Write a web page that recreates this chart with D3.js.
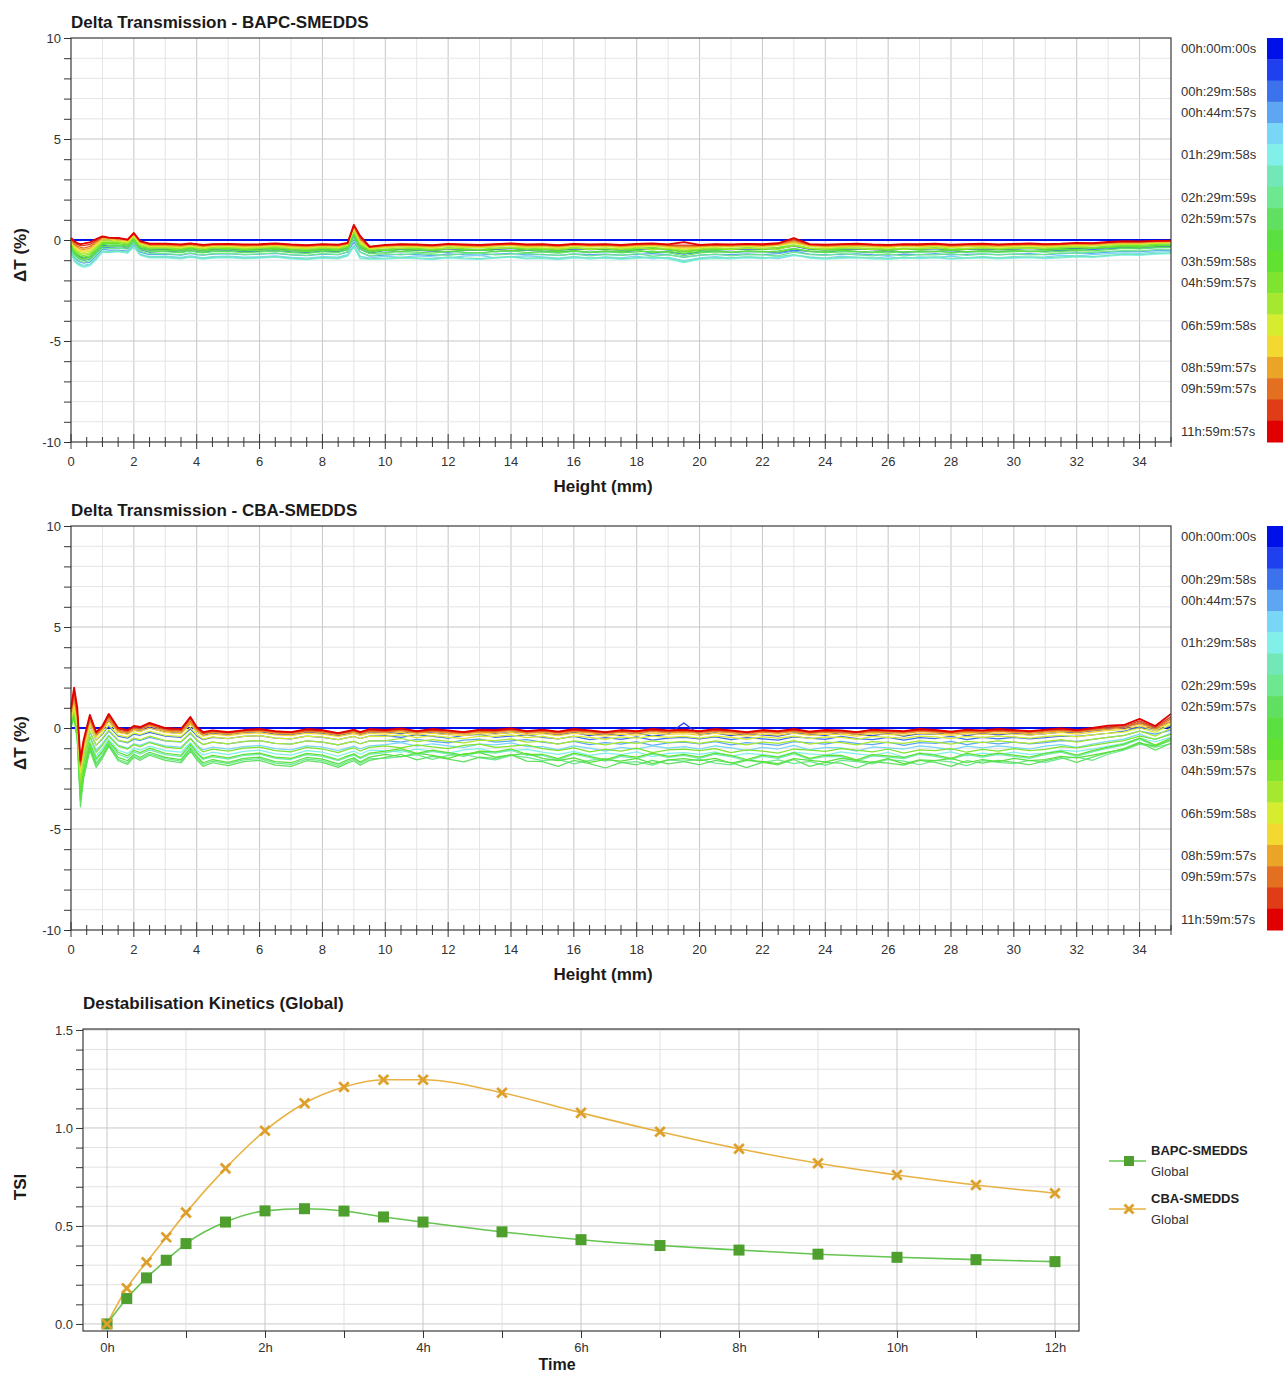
<!DOCTYPE html>
<html><head><meta charset="utf-8">
<script src="https://cdn.jsdelivr.net/npm/d3@7"></script>
<style>
body{margin:0;background:#fff;}
svg{display:block;font-family:"Liberation Sans",Arial,sans-serif;}
</style></head><body>
<svg id="c" width="1283" height="1376"></svg>
<script>
// ---------- DATA ----------
const HEIGHTS = [0,.1,.2,.3,.4,.6,.8,1,1.2,1.5,1.8,2,2.2,2.5,
 3,3.5,3.8,4,4.2,4.5,5,5.5,6,6.5,7,7.5,8,8.5,8.8,9,9.2,9.5,
 10,10.5,11,11.5,12,12.5,13,13.5,14,14.5,15,15.5,16,16.5,17,17.5,18,18.5,19,19.5,
 20,20.5,21,21.5,22,22.5,23,23.5,24,24.5,25,25.5,26,26.5,27,27.5,28,28.5,29,29.5,
 30,30.5,31,31.5,32,32.5,33,33.5,34,34.5,35];

const SCAN_LABELS = ['00h:00m:00s','','00h:29m:58s','00h:44m:57s','','01h:29m:58s','','02h:29m:59s','02h:59m:57s','',
 '03h:59m:58s','04h:59m:57s','','06h:59m:58s','','08h:59m:57s','09h:59m:57s','','11h:59m:57s'];

const HEIGHT_TICKS = [0,2,4,6,8,10,12,14,16,18,20,22,24,26,28,30,32,34];
const DT_TICKS = [-10,-5,0,5,10];

const BAPC_DT = [
[0,0,0,0,0,0,0,0,0,0,0,0,0,0,
 0,0,0,0,0,0,0,0,0,0,0,0,0,0,0,0,0,0,
 0,0,0,0,0,0,0,0,0,0,0,0,0,0,0,0,0,0,0,0,
 0,0,0,0,0,0,0,0,0,0,0,0,0,0,0,0,0,0,0,0,
 0,0,0,0,0,0,0,0,0,0,0],
[-.3,-.6,-.75,-.85,-.9,-.85,-.55,-.25,-.3,-.3,-.35,-.1,-.4,-.5,
 -.45,-.5,-.42,-.48,-.5,-.46,-.44,-.5,-.47,-.43,-.49,-.52,-.45,-.48,-.4,.15,-.35,-.55,
 -.5,-.45,-.48,-.52,-.44,-.47,-.5,-.46,-.42,-.49,-.47,-.51,-.44,-.48,-.45,-.5,-.46,-.43,-.49,-.55,
 -.5,-.46,-.48,-.44,-.47,-.42,-.3,-.45,-.49,-.46,-.44,-.48,-.5,-.45,-.47,-.43,-.49,-.46,-.44,-.48,
 -.45,-.42,-.47,-.44,-.4,-.43,-.38,-.35,-.37,-.32,-.3],
[-.35,-.7,-.85,-.95,-1,-.95,-.65,-.35,-.38,-.4,-.42,-.15,-.48,-.6,
 -.55,-.6,-.52,-.57,-.6,-.55,-.53,-.58,-.56,-.52,-.59,-.62,-.55,-.57,-.48,.05,-.45,-.65,
 -.52,-.58,-.5,-.56,-.6,-.52,-.48,-.58,-.54,-.5,-.56,-.6,-.54,-.62,-.56,-.6,-.52,-.64,-.58,-.7,
 -.6,-.54,-.62,-.56,-.58,-.62,-.5,-.56,-.6,-.52,-.58,-.62,-.54,-.62,-.56,-.58,-.52,-.6,-.54,-.58,
 -.54,-.58,-.55,-.5,-.52,-.46,-.44,-.4,-.42,-.38,-.36],
[-.45,-.85,-1,-1.1,-1.15,-1.1,-.8,-.45,-.5,-.5,-.55,-.25,-.6,-.72,
 -.7,-.75,-.66,-.72,-.75,-.7,-.68,-.73,-.7,-.66,-.74,-.77,-.7,-.72,-.6,-.1,-.6,-.8,
 -.75,-.7,-.72,-.77,-.69,-.73,-.75,-.7,-.66,-.74,-.71,-.76,-.69,-.73,-.7,-.75,-.71,-.68,-.73,-.85,
 -.75,-.71,-.73,-.69,-.72,-.67,-.55,-.7,-.74,-.71,-.69,-.73,-.75,-.7,-.72,-.68,-.74,-.71,-.69,-.73,
 -.7,-.67,-.72,-.68,-.64,-.66,-.6,-.56,-.57,-.52,-.5],
[-.55,-.95,-1.1,-1.2,-1.25,-1.2,-.9,-.55,-.58,-.55,-.62,-.3,-.7,-.82,
 -.8,-.86,-.78,-.83,-.88,-.82,-.8,-.85,-.83,-.78,-.86,-.9,-.82,-.85,-.72,-.25,-.8,-.9,
 -.8,-.86,-.78,-.84,-.9,-.8,-.76,-.88,-.82,-.78,-.84,-.9,-.82,-.92,-.84,-.88,-.8,-.94,-.86,-1.02,
 -.88,-.82,-.9,-.84,-.86,-.92,-.76,-.84,-.9,-.8,-.86,-.9,-.82,-.92,-.84,-.86,-.8,-.9,-.82,-.88,
 -.82,-.86,-.83,-.76,-.78,-.72,-.68,-.64,-.66,-.6,-.58],
[-.6,-1.05,-1.2,-1.3,-1.35,-1.28,-.98,-.6,-.62,-.58,-.65,-.35,-.75,-.88,
 -.88,-.93,-.85,-.9,-.95,-.9,-.87,-.92,-.9,-.85,-.94,-.97,-.9,-.93,-.8,-.35,-.92,-.95,
 -.95,-.9,-.92,-.97,-.88,-.93,-.96,-.9,-.85,-.94,-.91,-.97,-.88,-.93,-.9,-.96,-.91,-.87,-.94,-1.12,
 -.96,-.91,-.93,-.88,-.92,-.86,-.75,-.9,-.95,-.91,-.89,-.93,-.96,-.9,-.92,-.88,-.95,-.91,-.89,-.93,
 -.9,-.87,-.92,-.88,-.84,-.86,-.8,-.74,-.76,-.7,-.68],
[-.55,-1,-1.15,-1.25,-1.3,-1.22,-.92,-.55,-.6,-.55,-.6,-.32,-.72,-.85,
 -.84,-.9,-.82,-.87,-.91,-.86,-.84,-.89,-.86,-.82,-.9,-.94,-.86,-.9,-.76,-.3,-.88,-.92,
 -.9,-.86,-.88,-.93,-.84,-.89,-.92,-.86,-.82,-.9,-.87,-.93,-.84,-.89,-.86,-.92,-.87,-.83,-.9,-1.08,
 -.92,-.87,-.89,-.84,-.88,-.82,-.72,-.86,-.91,-.87,-.85,-.89,-.92,-.86,-.88,-.84,-.91,-.87,-.85,-.89,
 -.86,-.83,-.88,-.84,-.8,-.82,-.76,-.7,-.72,-.66,-.64],
[-.4,-.8,-.95,-1.05,-1.1,-1.02,-.72,-.4,-.42,-.4,-.45,-.15,-.55,-.68,
 -.68,-.72,-.64,-.7,-.74,-.68,-.66,-.72,-.69,-.64,-.72,-.76,-.68,-.72,-.58,.1,-.6,-.78,
 -.68,-.74,-.66,-.72,-.76,-.68,-.64,-.74,-.7,-.66,-.72,-.76,-.7,-.78,-.72,-.76,-.68,-.8,-.74,-.86,
 -.76,-.7,-.78,-.72,-.74,-.78,-.6,-.72,-.76,-.68,-.74,-.78,-.7,-.78,-.72,-.74,-.68,-.76,-.7,-.74,
 -.7,-.74,-.71,-.64,-.66,-.6,-.56,-.52,-.54,-.48,-.46],
[-.3,-.7,-.85,-.95,-1,-.92,-.62,-.3,-.32,-.3,-.36,-.05,-.45,-.58,
 -.58,-.62,-.54,-.6,-.64,-.58,-.56,-.62,-.59,-.54,-.62,-.66,-.58,-.62,-.48,.25,-.45,-.68,
 -.63,-.58,-.6,-.65,-.56,-.61,-.64,-.58,-.54,-.62,-.59,-.65,-.56,-.61,-.58,-.64,-.59,-.55,-.62,-.78,
 -.64,-.59,-.61,-.56,-.6,-.54,-.42,-.58,-.63,-.59,-.57,-.61,-.64,-.58,-.6,-.56,-.63,-.59,-.57,-.61,
 -.58,-.55,-.6,-.56,-.52,-.54,-.48,-.42,-.44,-.38,-.36],
[-.25,-.62,-.78,-.88,-.92,-.85,-.55,-.22,-.25,-.24,-.3,.02,-.38,-.5,
 -.5,-.55,-.47,-.52,-.56,-.5,-.48,-.54,-.51,-.46,-.54,-.58,-.5,-.54,-.4,.35,-.35,-.6,
 -.5,-.56,-.48,-.54,-.58,-.5,-.46,-.56,-.52,-.48,-.54,-.58,-.52,-.6,-.54,-.58,-.5,-.62,-.56,-.66,
 -.58,-.52,-.6,-.54,-.56,-.6,-.44,-.54,-.58,-.5,-.56,-.6,-.52,-.6,-.54,-.56,-.5,-.58,-.52,-.56,
 -.52,-.56,-.53,-.46,-.48,-.42,-.38,-.34,-.36,-.3,-.28],
[-.2,-.55,-.7,-.8,-.85,-.78,-.48,-.15,-.18,-.18,-.24,.08,-.32,-.44,
 -.44,-.49,-.41,-.46,-.5,-.44,-.42,-.48,-.45,-.4,-.48,-.52,-.44,-.48,-.35,.4,-.28,-.55,
 -.49,-.44,-.46,-.51,-.42,-.47,-.5,-.44,-.4,-.48,-.45,-.51,-.42,-.47,-.44,-.5,-.45,-.41,-.48,-.6,
 -.5,-.45,-.47,-.42,-.46,-.4,-.28,-.44,-.49,-.45,-.43,-.47,-.5,-.44,-.46,-.42,-.49,-.45,-.43,-.47,
 -.44,-.41,-.46,-.42,-.38,-.4,-.34,-.3,-.31,-.26,-.25],
[-.15,-.5,-.62,-.72,-.78,-.7,-.4,-.1,-.12,-.12,-.18,.12,-.28,-.4,
 -.4,-.44,-.37,-.42,-.46,-.4,-.38,-.44,-.41,-.36,-.44,-.47,-.4,-.44,-.3,.45,-.22,-.5,
 -.45,-.4,-.42,-.47,-.38,-.43,-.46,-.4,-.36,-.44,-.41,-.47,-.38,-.43,-.4,-.46,-.41,-.37,-.44,-.55,
 -.46,-.41,-.43,-.38,-.42,-.36,-.24,-.4,-.45,-.41,-.39,-.43,-.46,-.4,-.42,-.38,-.45,-.41,-.39,-.43,
 -.4,-.37,-.42,-.38,-.34,-.36,-.3,-.26,-.27,-.22,-.2],
[-.1,-.42,-.55,-.65,-.7,-.62,-.34,-.05,-.06,-.08,-.14,.16,-.24,-.36,
 -.36,-.4,-.33,-.38,-.42,-.36,-.34,-.4,-.37,-.32,-.4,-.43,-.36,-.4,-.27,.5,-.18,-.46,
 -.36,-.42,-.34,-.4,-.44,-.36,-.32,-.42,-.38,-.34,-.4,-.44,-.38,-.46,-.4,-.44,-.36,-.48,-.42,-.5,
 -.44,-.38,-.46,-.4,-.42,-.46,-.28,-.4,-.44,-.36,-.42,-.46,-.38,-.46,-.4,-.42,-.36,-.44,-.38,-.42,
 -.38,-.42,-.39,-.32,-.34,-.28,-.24,-.2,-.22,-.17,-.15],
[-.05,-.36,-.48,-.58,-.62,-.55,-.28,0,0,-.04,-.1,.2,-.2,-.32,
 -.32,-.36,-.29,-.34,-.38,-.32,-.3,-.36,-.33,-.28,-.36,-.39,-.32,-.36,-.24,.55,-.12,-.43,
 -.37,-.32,-.34,-.39,-.3,-.35,-.38,-.32,-.28,-.36,-.33,-.39,-.3,-.35,-.32,-.38,-.33,-.29,-.36,-.45,
 -.38,-.33,-.35,-.3,-.34,-.28,-.16,-.32,-.37,-.33,-.31,-.35,-.38,-.32,-.34,-.3,-.37,-.33,-.31,-.35,
 -.32,-.29,-.34,-.3,-.26,-.28,-.22,-.18,-.19,-.14,-.13],
[0,-.3,-.42,-.5,-.55,-.48,-.22,.05,.04,0,-.06,.24,-.16,-.29,
 -.29,-.33,-.26,-.31,-.35,-.29,-.27,-.33,-.3,-.26,-.33,-.36,-.29,-.33,-.22,.6,-.05,-.4,
 -.34,-.29,-.31,-.36,-.27,-.32,-.35,-.29,-.26,-.33,-.3,-.36,-.27,-.32,-.29,-.35,-.3,-.26,-.33,-.4,
 -.35,-.3,-.32,-.27,-.31,-.25,-.12,-.29,-.34,-.3,-.28,-.32,-.35,-.29,-.31,-.27,-.34,-.3,-.28,-.32,
 -.29,-.26,-.31,-.27,-.23,-.25,-.19,-.15,-.16,-.12,-.1],
[.03,-.24,-.36,-.44,-.48,-.4,-.15,.1,.07,.04,-.03,.28,-.12,-.26,
 -.26,-.3,-.23,-.28,-.32,-.27,-.25,-.3,-.28,-.23,-.3,-.33,-.27,-.3,-.2,.65,0,-.38,
 -.31,-.27,-.29,-.33,-.25,-.29,-.32,-.27,-.24,-.3,-.28,-.33,-.25,-.29,-.27,-.32,-.27,-.24,-.3,-.35,
 -.32,-.28,-.3,-.25,-.29,-.23,-.08,-.27,-.31,-.28,-.26,-.3,-.32,-.27,-.29,-.25,-.31,-.28,-.26,-.3,
 -.27,-.24,-.28,-.25,-.21,-.23,-.17,-.13,-.14,-.1,-.08],
[.06,-.18,-.3,-.36,-.4,-.32,-.08,.14,.1,.07,0,.31,-.08,-.23,
 -.23,-.27,-.21,-.25,-.29,-.24,-.23,-.27,-.25,-.21,-.27,-.3,-.24,-.27,-.18,.7,.08,-.36,
 -.28,-.24,-.26,-.3,-.23,-.27,-.29,-.24,-.21,-.27,-.25,-.3,-.23,-.26,-.24,-.29,-.24,-.21,-.27,-.3,
 -.29,-.25,-.27,-.23,-.26,-.21,-.02,-.24,-.28,-.25,-.23,-.27,-.29,-.24,-.26,-.22,-.28,-.25,-.23,-.27,
 -.24,-.21,-.25,-.22,-.18,-.2,-.14,-.1,-.11,-.07,-.06],
[.08,-.1,-.22,-.28,-.28,-.22,-.02,.16,.12,.09,.02,.33,-.05,-.2,
 -.2,-.24,-.19,-.22,-.26,-.22,-.21,-.24,-.23,-.19,-.24,-.27,-.22,-.25,-.16,.72,.15,-.34,
 -.26,-.22,-.24,-.27,-.21,-.24,-.26,-.22,-.19,-.24,-.22,-.27,-.21,-.24,-.22,-.26,-.21,-.19,-.24,-.25,
 -.26,-.22,-.24,-.21,-.23,-.18,.04,-.22,-.25,-.22,-.2,-.24,-.26,-.22,-.23,-.2,-.25,-.22,-.2,-.24,
 -.21,-.19,-.22,-.2,-.16,-.17,-.12,-.08,-.09,-.05,-.04],
[.1,-.05,-.15,-.2,-.18,-.12,.05,.18,.12,.1,.02,.35,-.05,-.18,
 -.18,-.22,-.17,-.2,-.24,-.2,-.19,-.22,-.21,-.17,-.22,-.25,-.2,-.23,-.14,.75,.2,-.33,
 -.24,-.2,-.22,-.25,-.19,-.22,-.24,-.2,-.17,-.22,-.2,-.25,-.19,-.22,-.2,-.24,-.19,-.17,-.22,-.1,
 -.24,-.2,-.22,-.19,-.21,-.16,.1,-.2,-.23,-.2,-.18,-.22,-.24,-.2,-.21,-.18,-.23,-.2,-.18,-.22,
 -.19,-.17,-.2,-.18,-.14,-.15,-.1,-.06,-.07,-.04,-.03]
];

const CBA_DT = [
[0,0,0,0,0,0,0,0,0,0,0,0,0,0,
 0,0,0,0,0,0,0,0,0,0,0,0,0,0,0,0,0,0,
 0,0,0,0,0,0,0,0,0,0,0,0,0,0,0,0,0,0,0,0,
 0,0,0,0,0,0,0,0,0,0,0,0,0,0,0,0,0,0,0,0,
 0,0,0,0,0,0,0,0,0,0,0],
[1.2,1.5,.6,-1.7,-.8,.35,-.35,-.1,.35,-.2,-.28,-.1,-.15,0,
 -.2,-.26,.2,-.18,-.36,-.26,-.32,-.22,-.18,-.3,-.34,-.2,-.26,-.38,-.28,-.22,-.32,-.2,
 -.2,-.28,-.16,-.24,-.32,-.18,-.14,-.28,-.22,-.16,-.26,-.34,-.22,-.38,-.28,-.36,-.24,-.4,-.3,.25,
 -.34,-.24,-.38,-.28,-.34,-.4,-.24,-.3,-.36,-.22,-.32,-.38,-.26,-.4,-.28,-.32,-.22,-.38,-.26,-.34,
 -.26,-.34,-.28,-.2,-.22,-.14,-.06,.04,.25,.05,.3],
[.8,1.3,.3,-2,-1.1,.1,-.6,-.3,.1,-.4,-.5,-.3,-.36,-.22,
 -.4,-.46,-.05,-.38,-.58,-.46,-.52,-.42,-.38,-.5,-.54,-.4,-.46,-.58,-.48,-.42,-.52,-.4,
 -.38,-.46,-.34,-.42,-.5,-.36,-.32,-.46,-.4,-.34,-.46,-.54,-.42,-.58,-.48,-.56,-.44,-.6,-.5,-.46,
 -.54,-.44,-.58,-.48,-.54,-.6,-.44,-.5,-.56,-.42,-.52,-.58,-.46,-.6,-.48,-.52,-.42,-.58,-.46,-.54,
 -.46,-.54,-.48,-.4,-.42,-.34,-.26,-.16,.05,-.12,.1],
[.5,1.1,.05,-2.4,-1.4,-.2,-.85,-.55,-.15,-.62,-.74,-.55,-.62,-.46,
 -.64,-.7,-.28,-.6,-.82,-.7,-.78,-.68,-.62,-.76,-.8,-.64,-.7,-.84,-.72,-.66,-.78,-.64,
 -.62,-.7,-.56,-.66,-.74,-.6,-.55,-.7,-.64,-.58,-.7,-.78,-.66,-.82,-.72,-.8,-.68,-.86,-.74,-.7,
 -.78,-.68,-.84,-.72,-.78,-.86,-.68,-.74,-.8,-.66,-.76,-.82,-.7,-.86,-.72,-.76,-.66,-.82,-.7,-.78,
 -.7,-.78,-.72,-.62,-.66,-.56,-.46,-.36,-.15,-.3,-.1],
[.35,.85,-.15,-2.7,-1.7,-.4,-1.1,-.78,-.35,-.85,-1,-.78,-.86,-.68,
 -.88,-.95,-.5,-.84,-1.08,-.95,-1.05,-.92,-.86,-1.02,-1.08,-.88,-.95,-1.12,-.98,-.9,-1.04,-.88,
 -.82,-.72,-.9,-.78,-.88,-.96,-.8,-.84,-.74,-.92,-.92,-1.08,-.88,-1,-1.14,-.96,-1.04,-.88,-1,-.92,
 -1.04,-.88,-.98,-1.12,-.96,-1.04,-.86,-1.08,-.96,-.98,-1.14,-.94,-.98,-1.04,-.88,-.96,-1.08,-.9,-.98,-.88,
 -.96,-1.04,-.9,-.82,-.96,-.8,-.66,-.55,-.3,-.58,-.25],
[.25,.75,-.3,-3,-2,-.65,-1.38,-1.02,-.55,-1.1,-1.26,-1,-1.1,-.9,
 -1.12,-1.2,-.72,-1.08,-1.34,-1.2,-1.32,-1.16,-1.1,-1.28,-1.34,-1.12,-1.2,-1.4,-1.24,-1.14,-1.3,-1.1,
 -1.12,-1.2,-1.05,-1.15,-1.26,-1.08,-1.02,-1.2,-1.12,-1.06,-1.2,-1.3,-1.16,-1.36,-1.24,-1.32,-1.18,-1.42,-1.26,-1.22,
 -1.3,-1.18,-1.4,-1.26,-1.32,-1.42,-1.2,-1.28,-1.34,-1.18,-1.28,-1.36,-1.2,-1.44,-1.26,-1.3,-1.18,-1.38,-1.24,-1.32,
 -1.2,-1.3,-1.24,-1.1,-1.16,-1.04,-.9,-.76,-.5,-.68,-.45],
[.15,.65,-.45,-3.3,-2.2,-.85,-1.6,-1.22,-.7,-1.3,-1.48,-1.18,-1.3,-1.08,
 -1.32,-1.42,-.9,-1.28,-1.56,-1.42,-1.54,-1.36,-1.3,-1.5,-1.56,-1.32,-1.4,-1.62,-1.44,-1.34,-1.52,-1.3,
 -1.22,-1.1,-1.32,-1.16,-1.28,-1.4,-1.2,-1.24,-1.1,-1.36,-1.36,-1.58,-1.3,-1.46,-1.64,-1.4,-1.5,-1.3,-1.46,-1.36,
 -1.5,-1.3,-1.42,-1.62,-1.4,-1.5,-1.28,-1.56,-1.4,-1.42,-1.64,-1.38,-1.44,-1.52,-1.3,-1.4,-1.56,-1.32,-1.44,-1.3,
 -1.4,-1.5,-1.32,-1.2,-1.4,-1.18,-1,-.85,-.55,-.9,-.55],
[.1,.55,-.55,-3.6,-2.4,-1,-1.85,-1.42,-.85,-1.55,-1.72,-1.38,-1.52,-1.28,
 -1.52,-1.64,-1.08,-1.48,-1.8,-1.64,-1.76,-1.58,-1.52,-1.74,-1.8,-1.54,-1.62,-1.86,-1.66,-1.55,-1.74,-1.52,
 -1.5,-1.42,-1.32,-1.55,-1.35,-1.3,-1.48,-1.58,-1.36,-1.45,-1.62,-1.55,-1.78,-1.6,-1.5,-1.72,-1.66,-1.84,-1.58,-1.64,
 -1.55,-1.74,-1.82,-1.6,-1.7,-1.58,-1.76,-1.65,-1.85,-1.6,-1.66,-1.78,-1.56,-1.64,-1.82,-1.6,-1.68,-1.86,-1.62,-1.7,
 -1.76,-1.6,-1.7,-1.52,-1.44,-1.6,-1.3,-1.1,-.8,-.95,-.78],
[.05,.5,-.6,-3.9,-2.5,-1.1,-1.95,-1.5,-.9,-1.62,-1.8,-1.45,-1.6,-1.35,
 -1.6,-1.72,-1.15,-1.56,-1.9,-1.72,-1.86,-1.66,-1.6,-1.84,-1.9,-1.62,-1.7,-1.95,-1.74,-1.62,-1.84,-1.6,
 -1.45,-1.3,-1.58,-1.4,-1.54,-1.68,-1.44,-1.5,-1.32,-1.64,-1.66,-1.9,-1.6,-1.76,-1.98,-1.7,-1.82,-1.6,-1.78,-1.66,
 -1.82,-1.6,-1.72,-1.96,-1.7,-1.82,-1.56,-1.9,-1.7,-1.74,-1.98,-1.68,-1.74,-1.84,-1.6,-1.7,-1.9,-1.62,-1.74,-1.6,
 -1.7,-1.82,-1.62,-1.46,-1.7,-1.44,-1.22,-1.02,-.7,-1.1,-.75],
[.1,.6,-.55,-3.5,-2.3,-.95,-1.75,-1.35,-.8,-1.45,-1.62,-1.3,-1.45,-1.2,
 -1.45,-1.56,-1,-1.4,-1.72,-1.56,-1.7,-1.5,-1.44,-1.66,-1.72,-1.46,-1.54,-1.78,-1.58,-1.48,-1.68,-1.44,
 -1.3,-1.42,-1.25,-1.36,-1.5,-1.28,-1.22,-1.44,-1.34,-1.26,-1.5,-1.62,-1.48,-1.7,-1.56,-1.64,-1.5,-1.76,-1.58,-1.52,
 -1.62,-1.5,-1.74,-1.58,-1.66,-1.76,-1.52,-1.6,-1.68,-1.5,-1.6,-1.7,-1.52,-1.78,-1.58,-1.62,-1.5,-1.72,-1.56,-1.66,
 -1.5,-1.62,-1.56,-1.4,-1.48,-1.34,-1.2,-1.05,-.75,-.9,-.62],
[.2,.7,-.4,-3.1,-2.1,-.75,-1.5,-1.15,-.65,-1.2,-1.38,-1.1,-1.22,-1,
 -1.25,-1.34,-.8,-1.2,-1.5,-1.36,-1.48,-1.3,-1.24,-1.44,-1.5,-1.26,-1.34,-1.56,-1.38,-1.28,-1.46,-1.24,
 -1.15,-1.02,-1.26,-1.1,-1.22,-1.34,-1.14,-1.18,-1.04,-1.3,-1.3,-1.52,-1.24,-1.4,-1.58,-1.34,-1.44,-1.24,-1.4,-1.3,
 -1.44,-1.24,-1.36,-1.56,-1.34,-1.44,-1.22,-1.5,-1.34,-1.36,-1.58,-1.32,-1.38,-1.46,-1.24,-1.34,-1.5,-1.26,-1.38,-1.24,
 -1.34,-1.44,-1.26,-1.14,-1.34,-1.12,-.95,-.8,-.5,-.85,-.5],
[.3,.8,-.2,-2.8,-1.8,-.45,-1.2,-.85,-.4,-.9,-1.05,-.82,-.92,-.72,
 -.95,-1.02,-.52,-.9,-1.18,-1.05,-1.15,-1,-.95,-1.12,-1.18,-.96,-1.04,-1.22,-1.06,-.98,-1.14,-.96,
 -.88,-.98,-.84,-.94,-1.02,-.86,-.8,-.96,-.9,-.84,-1.02,-1.12,-.98,-1.18,-1.06,-1.14,-1,-1.22,-1.08,-1.04,
 -1.12,-1.02,-1.22,-1.08,-1.14,-1.24,-1.04,-1.1,-1.16,-1.02,-1.1,-1.18,-1.04,-1.24,-1.08,-1.12,-1.02,-1.2,-1.06,-1.14,
 -1.02,-1.12,-1.06,-.92,-.98,-.86,-.74,-.62,-.4,-.55,-.32],
[.4,.9,0,-2.5,-1.5,-.15,-.85,-.5,-.1,-.6,-.7,-.5,-.58,-.4,
 -.62,-.68,-.22,-.58,-.82,-.7,-.78,-.66,-.62,-.76,-.8,-.64,-.7,-.84,-.72,-.66,-.78,-.64,
 -.62,-.52,-.68,-.58,-.66,-.74,-.6,-.62,-.54,-.7,-.66,-.8,-.64,-.72,-.84,-.7,-.76,-.64,-.72,-.66,
 -.76,-.64,-.72,-.84,-.7,-.76,-.62,-.8,-.7,-.72,-.84,-.68,-.72,-.76,-.64,-.7,-.8,-.66,-.72,-.64,
 -.7,-.76,-.66,-.58,-.7,-.56,-.46,-.38,-.15,-.4,0],
[.5,1,.2,-2.2,-1.2,.1,-.6,-.25,.15,-.35,-.45,-.25,-.32,-.15,
 -.36,-.42,.02,-.32,-.55,-.44,-.52,-.42,-.38,-.5,-.54,-.4,-.45,-.58,-.48,-.42,-.52,-.4,
 -.42,-.34,-.48,-.38,-.46,-.52,-.4,-.42,-.34,-.48,-.42,-.54,-.4,-.46,-.56,-.44,-.5,-.4,-.46,-.42,
 -.5,-.4,-.46,-.56,-.44,-.5,-.4,-.52,-.44,-.46,-.56,-.42,-.46,-.5,-.4,-.44,-.52,-.42,-.46,-.4,
 -.44,-.5,-.42,-.36,-.44,-.34,-.26,-.2,0,-.22,.18],
[.6,1.2,.4,-2,-1,.25,-.45,-.12,.3,-.22,-.32,-.12,-.18,0,
 -.22,-.28,.18,-.18,-.4,-.3,-.38,-.28,-.24,-.34,-.38,-.26,-.3,-.42,-.34,-.28,-.38,-.26,
 -.3,-.22,-.35,-.26,-.33,-.38,-.28,-.3,-.22,-.35,-.28,-.38,-.26,-.32,-.4,-.3,-.35,-.26,-.32,-.28,
 -.35,-.26,-.32,-.4,-.3,-.35,-.26,-.37,-.3,-.32,-.4,-.28,-.32,-.35,-.26,-.3,-.37,-.28,-.32,-.26,
 -.3,-.35,-.28,-.22,-.3,-.2,-.12,-.08,.12,-.12,.28],
[.7,1.4,.5,-1.9,-.9,.35,-.35,-.05,.42,-.15,-.25,-.05,-.1,.1,
 -.15,-.2,.28,-.1,-.32,-.22,-.3,-.2,-.16,-.26,-.3,-.18,-.22,-.34,-.26,-.2,-.3,-.18,
 -.22,-.14,-.27,-.18,-.25,-.3,-.2,-.22,-.14,-.27,-.2,-.3,-.18,-.24,-.31,-.22,-.27,-.18,-.24,-.2,
 -.27,-.18,-.24,-.31,-.22,-.27,-.18,-.29,-.22,-.24,-.31,-.2,-.24,-.27,-.18,-.22,-.29,-.2,-.24,-.18,
 -.22,-.27,-.2,-.14,-.22,-.12,-.05,0,.2,-.05,.35],
[.8,1.6,.6,-1.8,-.8,.45,-.3,0,.5,-.1,-.2,0,-.05,.15,
 -.1,-.15,.35,-.05,-.28,-.18,-.25,-.16,-.12,-.22,-.25,-.14,-.18,-.3,-.22,-.15,-.25,-.14,
 -.18,-.1,-.22,-.14,-.2,-.25,-.16,-.18,-.1,-.22,-.16,-.24,-.14,-.19,-.26,-.18,-.22,-.14,-.19,-.16,
 -.22,-.14,-.19,-.26,-.18,-.22,-.14,-.24,-.18,-.19,-.26,-.16,-.19,-.22,-.14,-.18,-.24,-.16,-.19,-.14,
 -.18,-.22,-.16,-.1,-.18,-.08,0,.05,.28,0,.45],
[.9,1.8,.8,-1.7,-.7,.55,-.25,.05,.6,-.05,-.15,.05,0,.2,
 -.05,-.1,.45,0,-.25,-.15,-.22,-.13,-.08,-.18,-.22,-.1,-.14,-.27,-.18,-.12,-.22,-.1,
 -.14,-.06,-.18,-.1,-.15,-.22,-.12,-.14,-.06,-.18,-.12,-.2,-.1,-.15,-.22,-.14,-.18,-.1,-.15,-.12,
 -.18,-.1,-.15,-.22,-.14,-.18,-.1,-.2,-.14,-.15,-.22,-.12,-.15,-.18,-.1,-.14,-.2,-.12,-.15,-.1,
 -.14,-.18,-.12,-.06,-.14,-.04,.05,.1,.35,.05,.55],
[1,2,1,-1.6,-.6,.65,-.2,.1,.7,0,-.1,.1,.05,.25,
 0,-.05,.55,.05,-.2,-.12,-.2,-.1,-.05,-.15,-.2,-.05,-.1,-.25,-.15,-.08,-.2,-.05,
 -.1,-.02,-.15,-.05,-.12,-.2,-.08,-.1,-.02,-.15,-.08,-.18,-.05,-.12,-.2,-.1,-.15,-.05,-.12,-.08,
 -.15,-.05,-.12,-.2,-.1,-.15,-.05,-.18,-.1,-.12,-.2,-.08,-.12,-.15,-.05,-.1,-.18,-.08,-.12,-.05,
 -.1,-.15,-.08,-.02,-.1,0,.12,.15,.45,.1,.7]
];

const TSI_TIMES = [0,0.25,0.5,0.75,1,1.5,2,2.5,3,3.5,4,5,6,7,8,9,10,11,12];
const TSI_BAPC = [0,0.13,0.235,0.325,0.41,0.52,0.577,0.588,0.576,0.546,0.52,0.47,0.43,0.40,0.377,0.356,0.34,0.328,0.318];
const TSI_CBA  = [0,0.182,0.315,0.442,0.568,0.794,0.986,1.126,1.209,1.246,1.246,1.18,1.077,0.981,0.894,0.82,0.76,0.709,0.667];
const TSI_TICKS = [0,0.5,1.0,1.5];
const TIME_TICKS = [0,2,4,6,8,10,12];
const SERIES_NAMES = ['BAPC-SMEDDS','CBA-SMEDDS'];

// ---------- STYLE ----------
const SCAN_COLORS = ['#0010e8','#2040f0','#3c72ec','#5ea6f2','#7ad6f6','#80f0e8','#72e8b8','#6ee890','#60e060','#5ae040',
 '#62e230','#7ee430','#a6e830','#d6ec30','#f4d832','#eaa426','#e27020','#e03c18','#e00000'];
const FONT = '"Liberation Sans", Arial, sans-serif';
const TICK_FS = 13, TITLE_FS = 17;
const svg = d3.select('#c');

[BAPC_DT, CBA_DT].forEach((set,si)=>set.forEach((s,k)=>{ if(s.length!==HEIGHTS.length) console.error('len mismatch',si,k,s.length); }));

function dtChart(top, title, data){
  const L=71, R=1171, T=top, B=top+404;
  const x=d3.scaleLinear().domain([0,35]).range([L,R]);
  const y=d3.scaleLinear().domain([-10,10]).range([B,T]);
  const g=svg.append('g');
  d3.range(1,35).forEach(v=>g.append('line').attr('x1',x(v)).attr('x2',x(v)).attr('y1',T).attr('y2',B)
    .attr('stroke', v%2===0?'#c6c6c6':'#e4e4e4').attr('stroke-width',1));
  d3.range(-9,10).forEach(v=>g.append('line').attr('x1',L).attr('x2',R).attr('y1',y(v)).attr('y2',y(v))
    .attr('stroke', v%5===0?'#c6c6c6':'#e4e4e4').attr('stroke-width',1));
  const line=d3.line().x((d,i)=>x(HEIGHTS[i])).y(d=>y(d));
  data.forEach((s,k)=>g.append('path').attr('d',line(s)).attr('fill','none')
    .attr('stroke',SCAN_COLORS[k]).attr('stroke-width',(k===0||k===18)?1.8:1.25).attr('stroke-linejoin','round'));
  g.append('rect').attr('x',L).attr('y',T).attr('width',R-L).attr('height',B-T).attr('fill','none').attr('stroke','#3a3a3a').attr('stroke-width',1.2);
  const ya=g.append('g').attr('transform',`translate(${L},0)`)
    .call(d3.axisLeft(y).tickValues(d3.range(-10,11,1)).tickSize(7).tickPadding(3)
      .tickFormat(v=>DT_TICKS.includes(v)?String(v):''));
  ya.select('.domain').remove();
  ya.selectAll('line').attr('stroke','#333');
  ya.selectAll('text').attr('font-family',FONT).attr('font-size',TICK_FS).attr('fill','#333');
  d3.range(0,71).map(i=>i/2).forEach(v=>{
    const major=(v%2===0);
    g.append('line').attr('x1',x(v)).attr('x2',x(v)).attr('y1',B-(major?8:5)).attr('y2',B+(major?7:5))
      .attr('stroke','#333').attr('stroke-width',1);
  });
  HEIGHT_TICKS.forEach(v=>g.append('text').attr('x',x(v)).attr('y',B+24).attr('text-anchor','middle')
    .attr('font-family',FONT).attr('font-size',TICK_FS).attr('fill','#333').text(v));
  g.append('text').attr('x',L).attr('y',T-10).attr('font-family',FONT).attr('font-size',TITLE_FS).attr('font-weight','bold').attr('fill','#1a1a1a').text(title);
  g.append('text').attr('x',603).attr('y',B+50).attr('text-anchor','middle').attr('font-family',FONT).attr('font-size',TITLE_FS).attr('font-weight','bold').attr('fill','#1a1a1a').text('Height (mm)');
  g.append('text').attr('transform',`translate(26,${T+217}) rotate(-90)`).attr('text-anchor','middle').attr('font-family',FONT).attr('font-size',TITLE_FS).attr('font-weight','bold').attr('fill','#1a1a1a').text('ΔT (%)');
  const seg=(B-T)/19;
  SCAN_COLORS.forEach((c,k)=>{
    g.append('rect').attr('x',1267).attr('y',T+k*seg).attr('width',18).attr('height',seg+0.5).attr('fill',c);
    if(SCAN_LABELS[k]) g.append('text').attr('x',1181).attr('y',T+(k+0.5)*seg+4.5).attr('font-family',FONT).attr('font-size',TICK_FS).attr('fill','#333').text(SCAN_LABELS[k]);
  });
}

dtChart(38, 'Delta Transmission - BAPC-SMEDDS', BAPC_DT);
dtChart(526, 'Delta Transmission - CBA-SMEDDS', CBA_DT);

// ---------- TSI chart ----------
(function(){
  const L=83,R=1079,T=1029,B=1331;
  const x=d3.scaleLinear().domain([-0.304,12.304]).range([L,R]);
  const y=d3.scaleLinear().domain([-0.036,1.505]).range([B,T]);
  const g=svg.append('g');
  d3.range(0,16).map(i=>i/10).forEach(v=>g.append('line').attr('x1',L).attr('x2',R).attr('y1',y(v)).attr('y2',y(v))
    .attr('stroke',(Math.round(v*10)%5===0)?'#c8c8c8':'#e2e2e2'));
  d3.range(0,13).forEach(v=>g.append('line').attr('x1',x(v)).attr('x2',x(v)).attr('y1',T).attr('y2',B)
    .attr('stroke',v%2===0?'#c8c8c8':'#e2e2e2'));
  g.append('rect').attr('x',L).attr('y',T).attr('width',R-L).attr('height',B-T).attr('fill','none').attr('stroke','#3a3a3a').attr('stroke-width',1.2);
  const ya=g.append('g').attr('transform',`translate(${L},0)`)
    .call(d3.axisLeft(y).tickValues(d3.range(0,16).map(i=>i/10)).tickSize(7).tickPadding(3)
      .tickFormat(v=>TSI_TICKS.some(t=>Math.abs(t-v)<1e-9)?d3.format('.1f')(v):''));
  ya.select('.domain').remove();
  ya.selectAll('line').attr('stroke','#333');
  ya.selectAll('text').attr('font-family',FONT).attr('font-size',TICK_FS).attr('fill','#333');
  const xa=g.append('g').attr('transform',`translate(0,${B})`)
    .call(d3.axisBottom(x).tickValues(d3.range(0,13)).tickSize(7).tickPadding(5)
      .tickFormat(v=>TIME_TICKS.includes(v)?v+'h':''));
  xa.select('.domain').remove();
  xa.selectAll('line').attr('stroke','#333');
  xa.selectAll('text').attr('font-family',FONT).attr('font-size',TICK_FS).attr('fill','#333');

  const line=d3.line().curve(d3.curveMonotoneX).x((d,i)=>x(TSI_TIMES[i])).y(d=>y(d));
  g.append('path').attr('d',line(TSI_CBA)).attr('fill','none').attr('stroke','#e8b242').attr('stroke-width',1.6);
  g.append('path').attr('d',line(TSI_BAPC)).attr('fill','none').attr('stroke','#66c450').attr('stroke-width',1.6);
  TSI_BAPC.forEach((v,i)=>g.append('rect').attr('x',x(TSI_TIMES[i])-5.5).attr('y',y(v)-5.5).attr('width',11).attr('height',11).attr('fill','#4e9f2e'));
  const cross=(gg,cx,cy,s)=>{
    gg.append('line').attr('x1',cx-s).attr('y1',cy-s).attr('x2',cx+s).attr('y2',cy+s).attr('stroke','#dda02c').attr('stroke-width',2.8);
    gg.append('line').attr('x1',cx-s).attr('y1',cy+s).attr('x2',cx+s).attr('y2',cy-s).attr('stroke','#dda02c').attr('stroke-width',2.8);
  };
  TSI_CBA.forEach((v,i)=>cross(g,x(TSI_TIMES[i]),y(v),4.8));

  g.append('text').attr('x',83).attr('y',1009).attr('font-family',FONT).attr('font-size',TITLE_FS).attr('font-weight','bold').attr('fill','#1a1a1a').text('Destabilisation Kinetics (Global)');
  g.append('text').attr('x',557).attr('y',1370).attr('text-anchor','middle').attr('font-family',FONT).attr('font-size',16).attr('font-weight','bold').attr('fill','#1a1a1a').text('Time');
  g.append('text').attr('transform','translate(26,1187) rotate(-90)').attr('text-anchor','middle').attr('font-family',FONT).attr('font-size',TITLE_FS).attr('font-weight','bold').attr('fill','#1a1a1a').text('TSI');

  const lg=g.append('g');
  lg.append('line').attr('x1',1109).attr('x2',1146).attr('y1',1161).attr('y2',1161).attr('stroke','#66c450').attr('stroke-width',1.6);
  lg.append('rect').attr('x',1129-5).attr('y',1161-5).attr('width',10).attr('height',10).attr('fill','#4e9f2e');
  lg.append('line').attr('x1',1109).attr('x2',1146).attr('y1',1209).attr('y2',1209).attr('stroke','#e8b242').attr('stroke-width',1.6);
  cross(lg,1129,1209,4.5);
  [[SERIES_NAMES[0],1150],[SERIES_NAMES[1],1198]].forEach(([n,cy])=>{
    lg.append('text').attr('x',1151).attr('y',cy+4.5).attr('font-family',FONT).attr('font-size',TICK_FS).attr('font-weight','bold').attr('fill','#222').text(n);
    lg.append('text').attr('x',1151).attr('y',cy+26).attr('font-family',FONT).attr('font-size',TICK_FS).attr('fill','#333').text('Global');
  });
})();
</script>
</body></html>
